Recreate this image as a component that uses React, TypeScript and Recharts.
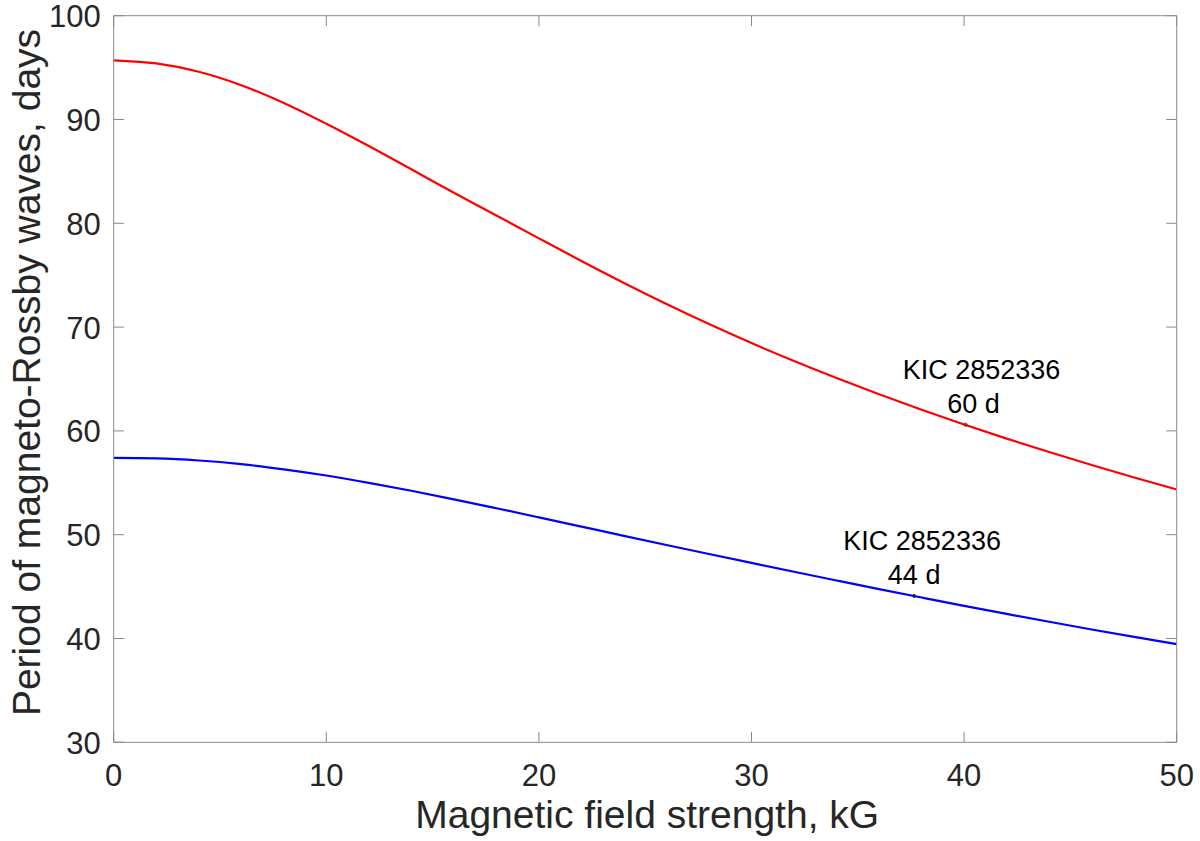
import React from "react";
import {
  LineChart,
  Line,
  XAxis,
  YAxis,
  ReferenceDot,
  Label,
} from "recharts";

// field strength, kG
const fieldKG = [
  0, 2, 4, 6, 8, 10, 12, 14, 16, 18, 20, 22, 24, 26, 28, 30, 32, 34, 36, 38,
  40, 42, 44, 46, 48, 50,
];

// period (days), upper red curve
const periodRed = [
  95.7, 95.4, 94.6, 93.3, 91.6, 89.6, 87.45, 85.2, 82.95, 80.75, 78.55, 76.37,
  74.25, 72.22, 70.29, 68.46, 66.73, 65.09, 63.53, 62.04, 60.61, 59.26, 57.96,
  56.71, 55.51, 54.36,
];

// period (days), lower blue curve
const periodBlue = [
  57.4, 57.35, 57.15, 56.8, 56.3, 55.7, 55.0, 54.23, 53.41, 52.55, 51.67,
  50.78, 49.89, 49.01, 48.14, 47.28, 46.43, 45.59, 44.76, 43.95, 43.15, 42.37,
  41.61, 40.87, 40.15, 39.45,
];

const xTicks = [0, 10, 20, 30, 40, 50];
const yTicks = [30, 40, 50, 60, 70, 80, 90, 100];

// annotated stars
const starX = [40.07, 37.65];
const starY = [60.6, 44.1];
const starName = ["KIC 2852336", "KIC 2852336"];
const starPeriod = ["60 d", "44 d"];
const starNameDx = [16, 8];
const starPeriodDx = [8, 0];

const data = fieldKG.map((b, i) => ({
  b,
  red: periodRed[i],
  blue: periodBlue[i],
}));

const FONT = "'Liberation Sans', Arial, Helvetica, sans-serif";
const AXIS = "#8a8a8a";
const TEXT = "#262626";
const TICK_LEN = 10.5;

const LeftTick = (props: any) => {
  const { x, y, payload } = props;
  return (
    <g>
      <line x1={x} y1={y} x2={x + TICK_LEN} y2={y} stroke={AXIS} />
      <text
        x={x - 13}
        y={y}
        dy={11.5}
        textAnchor="end"
        fontSize={31}
        fontFamily={FONT}
        fill={TEXT}
      >
        {payload.value}
      </text>
    </g>
  );
};

const RightTick = (props: any) => {
  const { x, y } = props;
  return <line x1={x - TICK_LEN} y1={y} x2={x} y2={y} stroke={AXIS} />;
};

const BottomTick = (props: any) => {
  const { x, y, payload } = props;
  return (
    <g>
      <line x1={x} y1={y} x2={x} y2={y - TICK_LEN} stroke={AXIS} />
      <text
        x={x}
        y={y + 44}
        textAnchor="middle"
        fontSize={31}
        fontFamily={FONT}
        fill={TEXT}
      >
        {payload.value}
      </text>
    </g>
  );
};

const TopTick = (props: any) => {
  const { x, y } = props;
  return <line x1={x} y1={y} x2={x} y2={y + TICK_LEN} stroke={AXIS} />;
};

const starLabel = (i: number) => (props: any) => {
  const vb = props.viewBox;
  const cx = vb.x + vb.width / 2;
  const cy = vb.y + vb.height / 2;
  return (
    <g fontFamily={FONT} fontSize={27} fill="#000">
      <text x={cx + starNameDx[i]} y={cy - 46} textAnchor="middle">
        {starName[i]}
      </text>
      <text x={cx + starPeriodDx[i]} y={cy - 11.5} textAnchor="middle">
        {starPeriod[i]}
      </text>
    </g>
  );
};

export default function App() {
  return (
    <div
      style={{
        position: "absolute",
        left: 0,
        top: 0,
        width: 1200,
        height: 841,
        background: "#fff",
      }}
    >
      <LineChart
        width={1200}
        height={841}
        data={data}
        margin={{ top: 14.7, right: 22.3, bottom: 0, left: 0 }}
      >
        <XAxis
          dataKey="b"
          type="number"
          domain={[0, 50]}
          ticks={xTicks}
          interval={0}
          height={98.7}
          tickSize={0}
          tickMargin={0}
          tickLine={false}
          stroke={AXIS}
          tick={<BottomTick />}
          allowDataOverflow
        >
          <Label
            content={(p: any) => (
              <text
                x={p.viewBox.x + p.viewBox.width / 2 + 2}
                y={p.viewBox.y + 86}
                textAnchor="middle"
                fontSize={39}
                fontFamily={FONT}
                fill={TEXT}
              >
                Magnetic field strength, kG
              </text>
            )}
          />
        </XAxis>
        <XAxis
          xAxisId="top"
          orientation="top"
          dataKey="b"
          type="number"
          domain={[0, 50]}
          ticks={xTicks}
          interval={0}
          height={1}
          tickSize={0}
          tickMargin={0}
          tickLine={false}
          stroke={AXIS}
          tick={<TopTick />}
          allowDataOverflow
        />
        <YAxis
          type="number"
          domain={[30, 100]}
          ticks={yTicks}
          interval={0}
          width={113.7}
          tickSize={0}
          tickMargin={0}
          tickLine={false}
          stroke={AXIS}
          tick={<LeftTick />}
          allowDataOverflow
        >
          <Label
            content={() => {
              const cx = 40;
              const cy = 372.5;
              return (
                <text
                  x={cx}
                  y={cy}
                  transform={`rotate(-90 ${cx} ${cy})`}
                  textAnchor="middle"
                  fontSize={39}
                  fontFamily={FONT}
                  fill={TEXT}
                >
                  Period of magneto-Rossby waves, days
                </text>
              );
            }}
          />
        </YAxis>
        <YAxis
          yAxisId="right"
          orientation="right"
          type="number"
          domain={[30, 100]}
          ticks={yTicks}
          interval={0}
          width={1}
          tickSize={0}
          tickMargin={0}
          tickLine={false}
          stroke={AXIS}
          tick={<RightTick />}
          allowDataOverflow
        />
        <Line
          type="monotone"
          dataKey="red"
          stroke="#ff0000"
          strokeWidth={2.2}
          dot={false}
          isAnimationActive={false}
        />
        <Line
          type="monotone"
          dataKey="blue"
          stroke="#0000ff"
          strokeWidth={2.2}
          dot={false}
          isAnimationActive={false}
        />
        {starX.map((sx, i) => (
          <ReferenceDot
            key={i}
            x={sx}
            y={starY[i]}
            r={1.6}
            fill="none"
            stroke="#333"
            strokeWidth={1}
            label={starLabel(i)}
          />
        ))}
      </LineChart>
    </div>
  );
}
